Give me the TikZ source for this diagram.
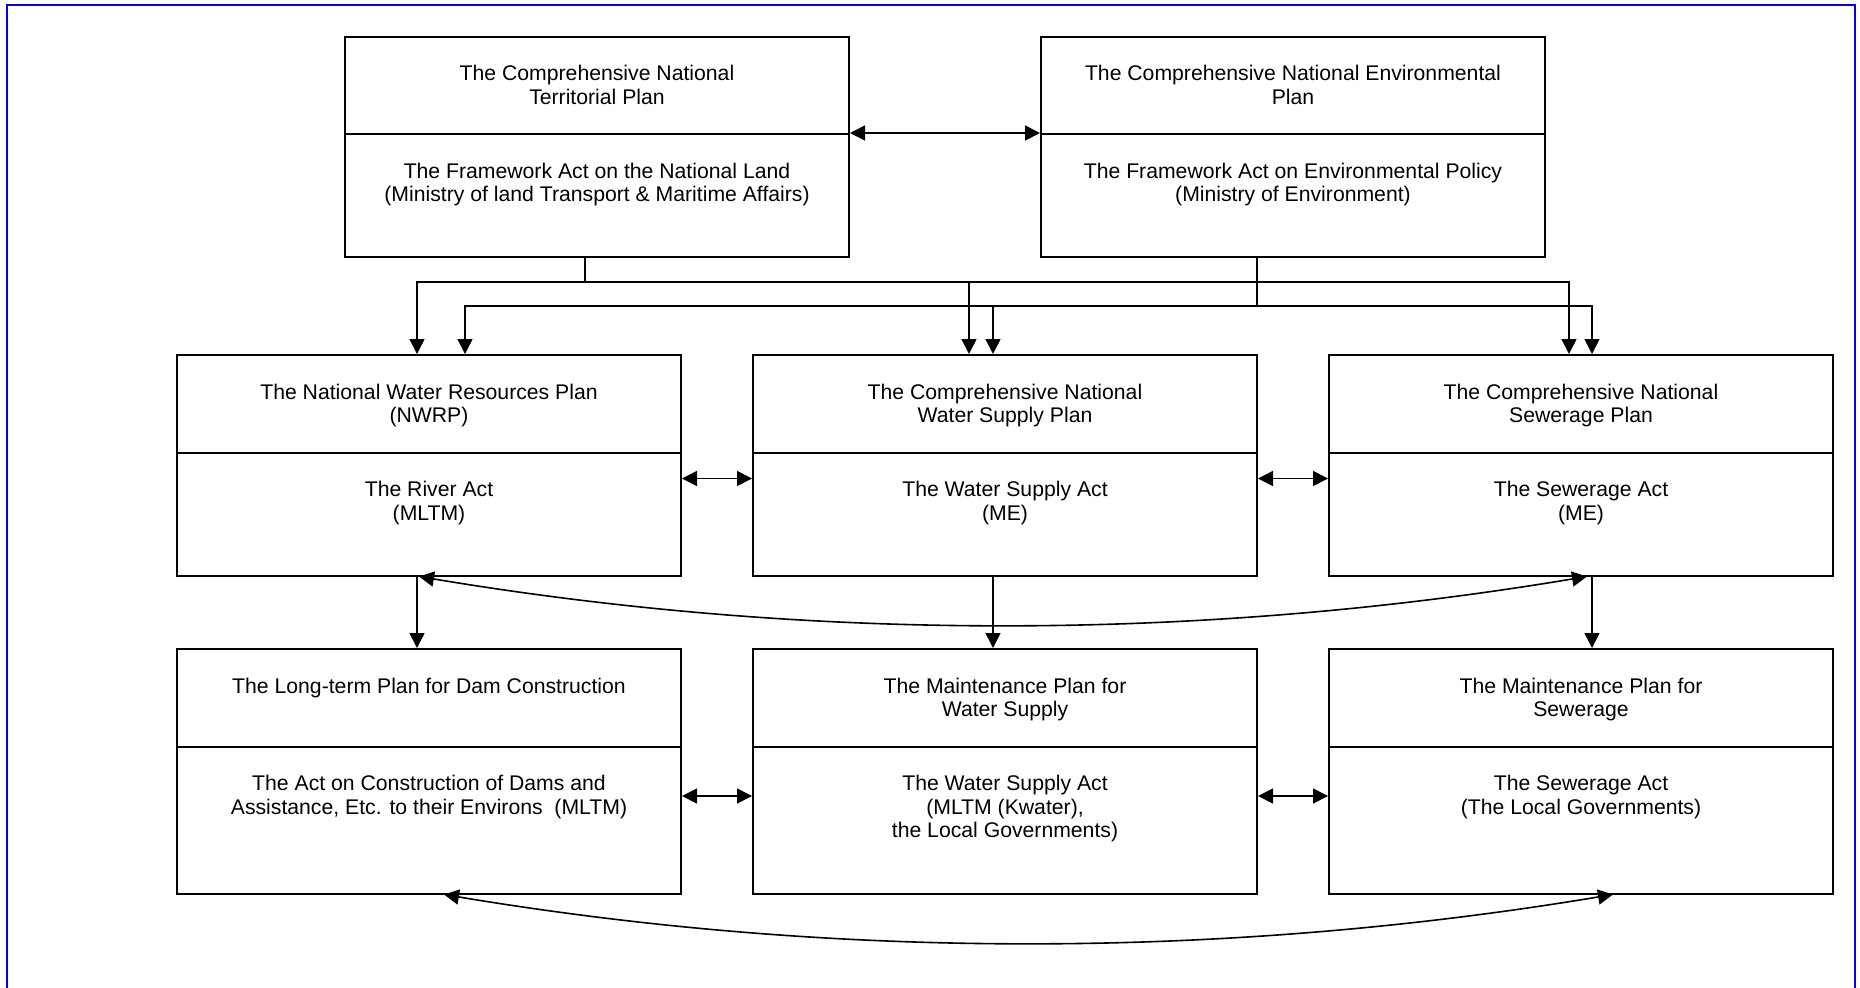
\documentclass[tikz,border=0pt]{standalone}
\usepackage{fontspec}
\setmainfont{Liberation Sans}
\usetikzlibrary{arrows.meta,calc}
\begin{document}
\begin{tikzpicture}[x=0.5pt,y=-0.5pt,
  comp/.style={draw, line width=1pt, inner sep=0pt, anchor=north west, minimum width=252pt},
  upc/.style={comp, minimum height=48.75pt},
  lowc/.style={comp, minimum height=61.5pt},
  lowb/.style={comp, minimum height=73.5pt},
  lbl/.style={anchor=north, align=center, inner sep=0pt, font=\fontsize{10.6}{11.7}\selectfont},
  conn/.style={line width=0.8pt},
  arr/.style={conn, -{Triangle[length=7.5pt,width=7.5pt]}},
  biarr/.style={conn, {Triangle[length=7.5pt,width=7.5pt]}-{Triangle[length=7.5pt,width=7.5pt]}}
]
\useasboundingbox (0,0) rectangle (1860,987);
\draw[blue, line width=1pt] (7,5) rectangle (1855,989);

% top row
\node[upc]  (tlU) at (344,35.5) {};
\node[lowc] (tlL) at (344,133) {};
\node[upc]  (trU) at (1040,35.5) {};
\node[lowc] (trL) at (1040,133) {};
% middle row
\node[upc]  (nwU) at (176,354) {};
\node[lowc] (nwL) at (176,451.5) {};
\node[upc]  (wsU) at (752,354) {};
\node[lowc] (wsL) at (752,451.5) {};
\node[upc]  (swU) at (1328,354) {};
\node[lowc] (swL) at (1328,451.5) {};
% bottom row
\node[upc]  (dmU) at (176,648) {};
\node[lowb] (dmL) at (176,745.5) {};
\node[upc]  (mwU) at (752,648) {};
\node[lowb] (mwL) at (752,745.5) {};
\node[upc]  (msU) at (1328,648) {};
\node[lowb] (msL) at (1328,745.5) {};

% texts
\node[lbl] (tlUt) at ($(tlU.north)+(0,29.5)$) {The Comprehensive National\\Territorial Plan};
\node[lbl] (tlLt) at ($(tlL.north)+(0,29.5)$) {The Framework Act on the National Land\\(Ministry of land Transport \& Maritime Affairs)};
\node[lbl] (trUt) at ($(trU.north)+(0,29.5)$) {The Comprehensive National Environmental\\Plan};
\node[lbl] (trLt) at ($(trL.north)+(0,29.5)$) {The Framework Act on Environmental Policy\\(Ministry of Environment)};
\node[lbl] (nwUt) at ($(nwU.north)+(0,29.5)$) {The National Water Resources Plan\\(NWRP)};
\node[lbl] (nwLt) at ($(nwL.north)+(0,29.5)$) {The River Act\\(MLTM)};
\node[lbl] (wsUt) at ($(wsU.north)+(0,29.5)$) {The Comprehensive National\\Water Supply Plan};
\node[lbl] (wsLt) at ($(wsL.north)+(0,29.5)$) {The Water Supply Act\\(ME)};
\node[lbl] (swUt) at ($(swU.north)+(0,29.5)$) {The Comprehensive National\\Sewerage Plan};
\node[lbl] (swLt) at ($(swL.north)+(0,29.5)$) {The Sewerage Act\\(ME)};
\node[lbl] (dmUt) at ($(dmU.north)+(0,29.5)$) {The Long-term Plan for Dam Construction};
\node[lbl] (dmLt) at ($(dmL.north)+(0,29.5)$) {The Act on Construction of Dams and\\Assistance, Etc. to their Environs~~(MLTM)};
\node[lbl] (mwUt) at ($(mwU.north)+(0,29.5)$) {The Maintenance Plan for\\Water Supply};
\node[lbl] (mwLt) at ($(mwL.north)+(0,29.5)$) {The Water Supply Act\\(MLTM (Kwater),\\the Local Governments)};
\node[lbl] (msUt) at ($(msU.north)+(0,29.5)$) {The Maintenance Plan for\\Sewerage};
\node[lbl] (msLt) at ($(msL.north)+(0,29.5)$) {The Sewerage Act\\(The Local Governments)};

% feeders from the top boxes
\coordinate (j1) at ($(tlL.south)+(-12,0)$);
\coordinate (h1) at ($(j1)+(0,24)$);
\coordinate (j2) at ($(trL.south)+(-36,0)$);
\coordinate (h2) at ($(j2)+(0,48)$);
\draw[conn] (j1) -- (h1);
\draw[conn] (j2) -- (h2);
\draw[arr] (h1) -| ($(nwU.north)+(-12,0)$);
\draw[arr] (h1) -| ($(wsU.north)+(-36,0)$);
\draw[arr] (h1) -| ($(swU.north)+(-12,0)$);
\draw[arr] (h2) -| ($(nwU.north)+(36,0)$);
\draw[arr] (h2) -| ($(wsU.north)+(-12,0)$);
\draw[arr] (h2) -| ($(swU.north)+(11,0)$);

% downward arrows
\draw[arr] ($(nwL.south)+(-12,0)$) -- ($(dmU.north)+(-12,0)$);
\draw[arr] ($(wsL.south)+(-12,0)$) -- ($(mwU.north)+(-12,0)$);
\draw[arr] ($(swL.south)+(11,0)$) -- ($(msU.north)+(11,0)$);

% horizontal two-way arrows
\draw[biarr] (tlL.north east) -- (trL.north west);
\draw[biarr] ($(nwL.east)+(0,-35.5)$) -- ($(wsL.west)+(0,-35.5)$);
\draw[biarr] ($(wsL.east)+(0,-35.5)$) -- ($(swL.west)+(0,-35.5)$);
\draw[biarr] ($(dmL.east)+(0,-24)$) -- ($(mwL.west)+(0,-24)$);
\draw[biarr] ($(mwL.east)+(0,-24)$) -- ($(msL.west)+(0,-24)$);

% curved two-way arrows
\draw[biarr] ($(nwL.south)+(-10,0)$) .. controls +(389,65) and +(-389,65) .. ($(swL.south)+(6,0)$);
\draw[biarr] ($(dmL.south)+(15,0)$) .. controls +(390,65) and +(-390,65) .. ($(msL.south)+(32,0)$);
\end{tikzpicture}
\end{document}
